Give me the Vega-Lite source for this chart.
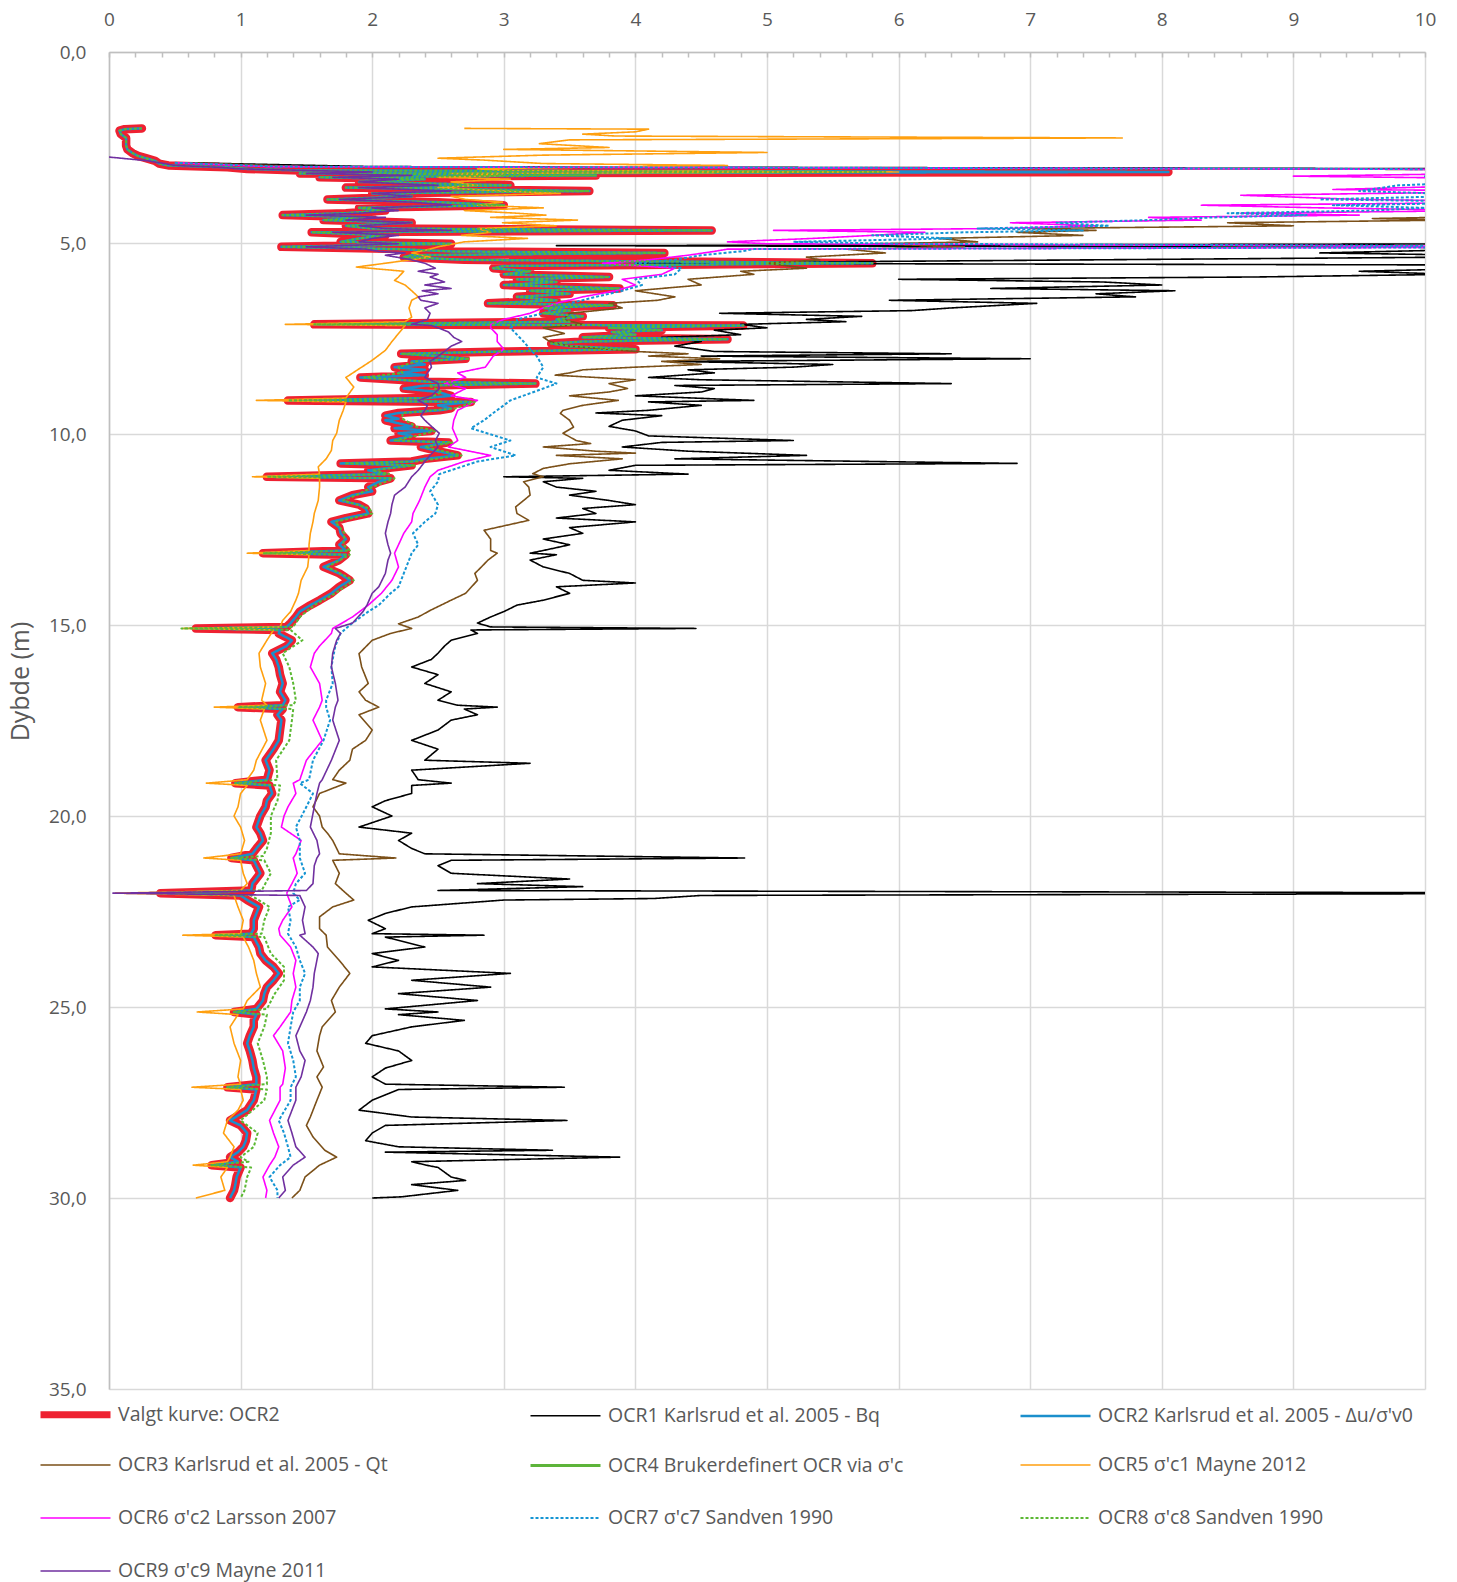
{
"$schema": "https://vega.github.io/schema/vega-lite/v6.json",
"width": 1316, "height": 1337,
"autosize": {"type": "none"},
"padding": {"left": 109, "top": 52, "right": 32, "bottom": 193},
"background": "white",
"config": {
 "font": "Open Sans",
 "view": {"stroke": null},
 "legend": {"orient": "none", "legendX": -72, "legendY": 1324, "columns": 3, "direction": "horizontal", "symbolType": "stroke", "symbolSize": 4900, "labelFontSize": 19.5, "labelColor": "#595959", "labelFont": "Open Sans", "labelLimit": 600, "rowPadding": -21.5, "columnPadding": 91, "gridAlign": "all", "labelOffset": 4, "padding": 0}
},
"data": {"values": [
{"s": "OCR1 Karlsrud et al. 2005 - Bq", "p": [[2.9,0.6],[3,2],[3.06,11],[5.02,11],[5.07,3.4],[5.12,11],[5.26,9.2],[5.35,11],[5.53,4],[5.58,11],[5.66,10.5],[5.74,9.5],[5.82,10.2],[5.89,8.7],[5.95,6],[6.02,7.55],[6.1,8],[6.19,6.7],[6.25,8.1],[6.33,7.5],[6.41,7.8],[6.5,5.93],[6.58,7.05],[6.7,6.4],[6.77,6.1],[6.84,4.64],[6.92,5.72],[7,5.3],[7.06,5.6],[7.13,4.8],[7.22,5],[7.28,4.6],[7.4,4.8],[7.47,4.2],[7.58,4.5],[7.7,4.3],[7.84,4.6],[7.9,6.4],[7.96,4.5],[8.03,7],[8.1,4.3],[8.18,5.5],[8.25,5.2],[8.32,4.4],[8.4,4.6],[8.52,4.1],[8.58,4.5],[8.68,6.4],[8.73,4.3],[8.81,4.6],[8.9,4.5],[9,4],[9.12,4.9],[9.16,4.1],[9.25,4.5],[9.38,4.1],[9.45,3.7],[9.52,4.2],[9.64,3.9],[9.8,3.8],[9.92,4],[10.05,4.1],[10.17,5.2],[10.22,4.2],[10.34,3.9],[10.45,4.4],[10.56,5.3],[10.65,4.3],[10.77,6.9],[10.82,4],[10.95,3.8],[11.05,4.4],[11.12,3],[11.16,3.6],[11.25,3.3],[11.39,3.4],[11.5,3.7],[11.6,3.5],[11.74,3.8],[11.85,4],[11.95,3.6],[12.08,3.7],[12.2,3.4],[12.3,4],[12.45,3.5],[12.6,3.6],[12.75,3.3],[12.9,3.5],[13.05,3.3],[13.12,3.2],[13.16,3.4],[13.3,3.2],[13.48,3.3],[13.65,3.5],[13.83,3.6],[13.9,4],[14,3.4],[14.17,3.5],[14.35,3.3],[14.48,3.1],[14.65,3],[14.79,2.9],[14.95,2.8],[15.05,2.9],[15.09,4.46],[15.13,2.75],[15.22,2.8],[15.4,2.6],[15.55,2.55],[15.74,2.5],[15.9,2.45],[16.1,2.3],[16.3,2.5],[16.53,2.4],[16.75,2.6],[16.97,2.5],[17.1,2.65],[17.15,2.95],[17.2,2.7],[17.35,2.8],[17.49,2.6],[17.75,2.5],[18.02,2.3],[18.25,2.5],[18.54,2.4],[18.62,3.2],[18.8,2.3],[19.05,2.35],[19.14,2.6],[19.2,2.3],[19.41,2.3],[19.6,2.1],[19.76,2],[20,2.15],[20.29,1.9],[20.45,2.3],[20.64,2.2],[20.85,2.3],[20.99,2.4],[21.1,4.83],[21.16,2.6],[21.3,2.5],[21.5,2.6],[21.65,3.5],[21.77,2.8],[21.85,3.6],[21.95,2.5],[22.02,12],[22.08,4.5],[22.16,4.14],[22.2,3],[22.38,2.3],[22.55,2.1],[22.73,1.97],[22.95,2.1],[23.08,2],[23.12,2.85],[23.17,2.1],[23.43,2.4],[23.6,2],[23.78,2.2],[23.95,2],[24.12,3.05],[24.3,2.3],[24.48,2.9],[24.65,2.2],[24.83,2.8],[25.05,2.1],[25.13,2.5],[25.2,2.2],[25.35,2.7],[25.52,2.3],[25.75,2],[25.95,1.95],[26.15,2.2],[26.4,2.3],[26.6,2.1],[26.83,2],[27.02,2.1],[27.1,3.46],[27.16,2.2],[27.44,2],[27.7,1.9],[27.88,2.3],[27.97,3.48],[28.1,2.1],[28.3,2],[28.5,1.95],[28.66,2.2],[28.75,3.37],[28.8,2.1],[28.93,3.88],[29.05,2.3],[29.14,2.41],[29.2,2.5],[29.45,2.6],[29.54,2.71],[29.65,2.3],[29.8,2.65],[29.97,2.22],[30,2]]},
{"s": "OCR2 Karlsrud et al. 2005 - Δu/σ'v0", "p": [[2,0.25],[2.02,0.12],[2.06,0.08],[2.15,0.09],[2.25,0.13],[2.35,0.13],[2.45,0.13],[2.55,0.14],[2.65,0.18],[2.72,0.22],[2.78,0.28],[2.85,0.35],[2.92,0.38],[2.97,0.45],[3.02,0.9],[3.06,1.05],[3.1,1.45],[3.14,8.05],[3.18,1.45],[3.23,3.7],[3.28,1.6],[3.33,2.4],[3.4,1.9],[3.49,3.05],[3.55,1.8],[3.64,3.65],[3.7,2],[3.78,2.3],[3.86,1.66],[3.93,2.5],[4.01,3],[4.08,1.9],[4.15,2.1],[4.22,1.8],[4.27,1.32],[4.33,2],[4.4,1.63],[4.47,2.3],[4.55,1.8],[4.62,2],[4.67,4.58],[4.72,1.54],[4.8,2.1],[4.88,1.9],[4.97,1.76],[5.02,2.6],[5.1,1.31],[5.16,2.2],[5.22,2.6],[5.26,4.22],[5.32,2.3],[5.37,2.24],[5.44,2.7],[5.53,5.8],[5.6,3],[5.66,2.92],[5.74,3.2],[5.82,3],[5.89,3.8],[5.95,3.1],[6.02,3.4],[6.1,3],[6.19,3.88],[6.25,3.2],[6.33,3.5],[6.41,3.1],[6.5,3.4],[6.58,2.88],[6.63,3.83],[6.7,3.3],[6.77,3.5],[6.84,3.3],[6.92,3.6],[7,3.4],[7.06,3.5],[7.13,1.56],[7.16,4.82],[7.22,3.8],[7.28,4.2],[7.33,3.82],[7.4,4],[7.47,3.6],[7.52,4.7],[7.58,3.6],[7.63,3.36],[7.7,3.5],[7.78,4],[7.84,3],[7.9,2.22],[7.96,2.5],[8.03,2.71],[8.1,2.3],[8.18,2.4],[8.25,2.17],[8.32,2.4],[8.4,2.2],[8.46,2.4],[8.52,1.91],[8.58,2.2],[8.63,2.4],[8.68,3.24],[8.73,2.4],[8.81,2.24],[8.9,2.5],[9,2.6],[9.06,2.4],[9.12,1.36],[9.16,2.75],[9.25,2.5],[9.33,2.6],[9.38,2.51],[9.45,2.2],[9.52,2.1],[9.6,2.2],[9.64,2.1],[9.72,2.2],[9.8,2.3],[9.85,2.17],[9.92,2.45],[9.98,2.2],[10.05,2.3],[10.17,2.14],[10.22,2.58],[10.34,2.37],[10.45,2.5],[10.56,2.65],[10.65,2.4],[10.72,2.3],[10.77,1.76],[10.82,2.3],[10.9,2.1],[10.95,1.97],[11.05,2.1],[11.12,1.2],[11.16,2.14],[11.25,2.05],[11.39,1.97],[11.5,2],[11.6,1.85],[11.74,1.75],[11.85,1.9],[11.95,1.95],[12.08,1.97],[12.2,1.8],[12.3,1.69],[12.45,1.75],[12.6,1.76],[12.75,1.8],[12.9,1.75],[13.05,1.8],[13.12,1.17],[13.16,1.8],[13.3,1.75],[13.48,1.63],[13.65,1.75],[13.83,1.83],[14,1.75],[14.17,1.69],[14.35,1.6],[14.48,1.53],[14.65,1.45],[14.79,1.42],[14.95,1.38],[15.05,1.35],[15.09,0.66],[15.13,1.3],[15.22,1.29],[15.4,1.39],[15.55,1.35],[15.74,1.24],[15.9,1.27],[16.1,1.29],[16.3,1.3],[16.53,1.32],[16.75,1.3],[16.97,1.34],[17.1,1.32],[17.15,0.98],[17.2,1.32],[17.35,1.28],[17.49,1.31],[17.75,1.3],[18.02,1.29],[18.25,1.25],[18.54,1.19],[18.8,1.22],[19.05,1.2],[19.14,0.96],[19.2,1.22],[19.41,1.24],[19.6,1.2],[19.76,1.19],[20,1.15],[20.29,1.12],[20.45,1.15],[20.64,1.17],[20.85,1.12],[20.99,1.09],[21.1,0.93],[21.16,1.1],[21.3,1.12],[21.5,1.15],[21.77,1.09],[21.95,1.08],[22.02,0.39],[22.08,1],[22.2,1.05],[22.38,1.14],[22.55,1.12],[22.73,1.1],[22.95,1.1],[23.08,1.08],[23.12,0.81],[23.17,1.1],[23.43,1.14],[23.6,1.15],[23.78,1.19],[23.95,1.25],[24.12,1.29],[24.3,1.25],[24.48,1.2],[24.65,1.18],[24.83,1.17],[25.05,1.12],[25.13,0.95],[25.2,1.12],[25.35,1.1],[25.52,1.1],[25.75,1.07],[25.95,1.05],[26.15,1.07],[26.4,1.09],[26.6,1.1],[26.83,1.12],[27.02,1.12],[27.1,0.9],[27.16,1.12],[27.44,1.1],[27.7,1.05],[27.97,0.92],[28.1,1],[28.3,1.05],[28.5,1.04],[28.66,1.02],[28.8,0.98],[28.93,0.92],[29.05,0.98],[29.14,0.78],[29.2,1],[29.45,0.97],[29.65,0.96],[29.8,0.95],[30,0.92]]},
{"s": "OCR3 Karlsrud et al. 2005 - Qt", "p": [[2.9,0.6],[3,1.5],[3.06,8],[3.1,14],[3.5,14],[4,13],[4.27,11],[4.36,9.6],[4.4,10.2],[4.47,8.5],[4.55,9],[4.62,7],[4.67,7.5],[4.72,6.9],[4.8,7.4],[4.88,6.3],[4.97,6.6],[5.02,5.8],[5.1,6.5],[5.16,5.6],[5.26,5.9],[5.37,5.3],[5.44,5.4],[5.53,5],[5.66,5.3],[5.74,4.8],[5.82,4.9],[5.95,4.4],[6.1,4.5],[6.25,4],[6.41,4.3],[6.5,4.17],[6.58,3.8],[6.7,3.9],[6.84,3.5],[7,3.45],[7.13,3.6],[7.22,3.3],[7.37,3.46],[7.47,3.3],[7.58,3.35],[7.7,3.5],[7.84,4],[7.9,4.4],[7.96,4.1],[8.03,4.64],[8.1,4.2],[8.18,4.5],[8.25,4],[8.32,3.6],[8.4,3.5],[8.46,3.39],[8.52,3.7],[8.58,4],[8.68,3.8],[8.81,3.94],[8.9,3.8],[9,3.5],[9.12,3.87],[9.25,3.6],[9.38,3.45],[9.46,3.43],[9.64,3.5],[9.82,3.53],[9.98,3.45],[10.17,3.55],[10.25,3.66],[10.34,3.3],[10.45,3.7],[10.5,4],[10.56,3.4],[10.65,3.9],[10.78,3.5],[10.9,3.3],[11.04,3.22],[11.12,3.3],[11.25,3.15],[11.39,3.19],[11.6,3.2],[11.91,3.09],[12.08,3.1],[12.26,3.19],[12.52,2.85],[12.75,2.9],[13.05,2.9],[13.12,2.95],[13.3,2.88],[13.48,2.83],[13.65,2.78],[13.83,2.8],[14.17,2.71],[14.35,2.6],[14.62,2.44],[14.79,2.35],[14.97,2.2],[15.09,2.3],[15.22,2.14],[15.4,2],[15.75,1.9],[16.1,1.92],[16.53,1.97],[16.75,1.9],[16.97,1.95],[17.15,2.05],[17.35,1.9],[17.75,2],[18.02,1.95],[18.25,1.85],[18.54,1.83],[18.8,1.75],[19.05,1.7],[19.14,1.8],[19.41,1.6],[19.76,1.55],[20,1.6],[20.29,1.62],[20.45,1.66],[20.64,1.7],[20.99,1.75],[21.1,2.18],[21.16,1.7],[21.5,1.75],[21.77,1.72],[22.02,1.8],[22.2,1.86],[22.38,1.7],[22.64,1.6],[22.95,1.6],[23.12,1.65],[23.43,1.66],[23.78,1.75],[24.12,1.83],[24.48,1.75],[24.83,1.69],[25.13,1.72],[25.52,1.62],[25.75,1.6],[26.15,1.58],[26.57,1.63],[26.83,1.58],[27.1,1.62],[27.44,1.58],[27.88,1.53],[28.1,1.5],[28.4,1.55],[28.75,1.64],[28.93,1.73],[29.14,1.6],[29.45,1.49],[29.8,1.45],[30,1.39]]},
{"s": "OCR5 σ'c1 Mayne 2012", "p": [[2,2.7],[2.02,4.1],[2.09,4],[2.15,3.6],[2.2,3.85],[2.25,7.7],[2.3,3.5],[2.4,3.27],[2.5,3.8],[2.55,3],[2.63,5],[2.7,3.3],[2.78,2.5],[2.83,2.85],[2.92,3.3],[2.97,4.7],[3.02,3.5],[3.06,2.8],[3.1,3],[3.14,6],[3.18,2.6],[3.23,3],[3.28,2.5],[3.33,3.05],[3.4,2.6],[3.49,2.8],[3.55,2.5],[3.64,3],[3.7,3.43],[3.78,2.6],[3.86,2.71],[3.93,2.99],[4.01,2.8],[4.08,3.3],[4.15,2.7],[4.22,3.1],[4.27,3.32],[4.33,2.9],[4.4,3.56],[4.47,2.99],[4.55,3.4],[4.62,2.8],[4.72,2.9],[4.8,2.68],[4.88,3.18],[4.97,2.7],[5.1,2.5],[5.16,2.44],[5.26,2.3],[5.37,2.44],[5.53,2.1],[5.63,1.88],[5.74,2.24],[5.89,2.2],[5.98,2.17],[6.1,2.25],[6.25,2.3],[6.41,2.35],[6.5,2.3],[6.7,2.28],[6.94,2.3],[7.06,2.25],[7.13,1.34],[7.16,2.25],[7.37,2.2],[7.58,2.15],[7.81,2.1],[8.07,2],[8.25,1.92],[8.52,1.8],[8.77,1.86],[9.06,1.8],[9.12,1.12],[9.16,1.8],[9.38,1.78],[9.64,1.75],[9.98,1.73],[10.17,1.7],[10.43,1.69],[10.65,1.65],[10.86,1.59],[11.05,1.6],[11.12,1.09],[11.16,1.6],[11.39,1.6],[11.74,1.59],[12.08,1.56],[12.3,1.55],[12.6,1.53],[12.9,1.52],[13.05,1.52],[13.12,1.05],[13.16,1.52],[13.48,1.51],[13.83,1.46],[14.17,1.44],[14.35,1.42],[14.65,1.38],[14.88,1.32],[15.05,1.3],[15.09,0.56],[15.13,1.25],[15.4,1.2],[15.74,1.14],[16.1,1.15],[16.53,1.19],[16.97,1.16],[17.1,1.2],[17.15,0.8],[17.2,1.18],[17.49,1.15],[18.02,1.2],[18.54,1.12],[18.8,1.1],[19.05,1.05],[19.14,0.74],[19.2,1.05],[19.41,1],[19.76,0.98],[20,0.95],[20.29,1],[20.64,1.03],[20.99,1],[21.1,0.72],[21.16,1],[21.5,1.02],[21.77,1.05],[21.95,1],[22.02,0.05],[22.08,0.95],[22.38,0.98],[22.73,1.02],[23.08,1],[23.12,0.56],[23.17,1.02],[23.43,1.06],[23.78,1.1],[24.12,1.12],[24.48,1.15],[24.83,1.05],[25.05,1.02],[25.13,0.67],[25.2,0.98],[25.52,0.92],[25.95,0.95],[26.4,1],[26.83,0.98],[27.02,1],[27.1,0.63],[27.16,1],[27.44,1.02],[27.7,0.98],[27.97,0.9],[28.3,0.87],[28.66,0.95],[28.93,0.92],[29.05,0.9],[29.14,0.64],[29.2,0.9],[29.45,0.85],[29.8,0.88],[30,0.66]]},
{"s": "OCR6 σ'c2 Larsson 2007", "p": [[2.9,0.5],[3,1.2],[3.06,9],[3.1,12],[3.18,10.5],[3.25,9],[3.33,11],[3.49,10.5],[3.6,9.3],[3.64,11],[3.75,8.6],[3.86,9.5],[3.93,11],[4.01,8.3],[4.08,9.2],[4.15,10.5],[4.22,8.6],[4.27,9.5],[4.33,7.9],[4.4,8.3],[4.47,6.85],[4.55,7.5],[4.62,6.8],[4.67,5.05],[4.72,6.2],[4.8,5.8],[4.88,5.35],[4.97,4.7],[5.02,5],[5.1,12],[5.16,4.7],[5.22,4.6],[5.32,4.4],[5.44,4.1],[5.53,3.75],[5.66,4.3],[5.82,4.2],[5.95,3.9],[6.1,4],[6.25,3.85],[6.41,3.6],[6.58,3.4],[6.7,3.3],[6.84,3.2],[7,3],[7.13,2.9],[7.22,2.9],[7.4,2.95],[7.58,2.95],[7.78,3],[7.96,2.92],[8.25,2.86],[8.4,2.65],[8.52,2.71],[8.68,2.55],[8.81,2.71],[9,2.6],[9.12,2.8],[9.38,2.65],[9.64,2.62],[9.85,2.61],[10.17,2.65],[10.34,2.58],[10.56,2.9],[10.72,2.7],[10.95,2.5],[11.12,2.44],[11.39,2.4],[11.74,2.36],[12.08,2.31],[12.3,2.3],[12.6,2.24],[12.9,2.2],[13.12,2.17],[13.48,2.2],[13.83,2.15],[14.17,2.07],[14.48,1.97],[14.79,1.85],[15.09,1.7],[15.22,1.69],[15.55,1.6],[15.74,1.56],[16.1,1.53],[16.53,1.6],[16.97,1.62],[17.15,1.6],[17.49,1.55],[18.02,1.62],[18.54,1.5],[19.05,1.45],[19.14,1.4],[19.41,1.42],[19.76,1.36],[20,1.33],[20.29,1.31],[20.64,1.46],[20.99,1.42],[21.1,1.4],[21.5,1.43],[21.77,1.39],[22.02,1.35],[22.38,1.39],[22.73,1.32],[22.95,1.29],[23.12,1.3],[23.43,1.38],[23.78,1.42],[24.12,1.4],[24.48,1.42],[24.83,1.39],[25.13,1.38],[25.52,1.3],[25.75,1.25],[26.15,1.32],[26.6,1.34],[27.02,1.32],[27.1,1.3],[27.44,1.3],[27.97,1.22],[28.3,1.25],[28.66,1.29],[28.93,1.26],[29.14,1.22],[29.45,1.17],[29.8,1.2],[30,1.19]]},
{"s": "OCR7 σ'c7 Sandven 1990", "p": [[2.9,0.5],[3,1.3],[3.06,9.5],[3.1,12],[3.18,11],[3.25,10],[3.33,11],[3.49,9.8],[3.64,9.5],[3.75,10.5],[3.86,9.2],[3.93,10.8],[4.01,9.3],[4.08,10],[4.15,9.6],[4.22,8.5],[4.27,9.1],[4.33,8.4],[4.4,7.9],[4.47,7.2],[4.55,7.6],[4.62,6.6],[4.67,7.4],[4.72,6.5],[4.8,5.8],[4.88,6.4],[4.97,5.2],[5.02,6],[5.1,12],[5.16,4.9],[5.22,4.8],[5.32,4.5],[5.44,4.3],[5.53,4],[5.66,4.35],[5.82,4.3],[5.95,4],[6.1,4.05],[6.25,3.9],[6.41,3.7],[6.58,3.5],[6.7,3.4],[6.84,3.3],[7,3.1],[7.13,3.1],[7.22,3.05],[7.4,3.1],[7.58,3.15],[7.78,3.2],[7.96,3.25],[8.25,3.3],[8.52,3.25],[8.68,3.4],[8.81,3.3],[9.12,3.05],[9.25,3],[9.45,2.92],[9.64,2.85],[9.85,2.75],[10.17,3.05],[10.34,2.9],[10.56,3.09],[10.72,2.8],[11.05,2.51],[11.25,2.5],[11.5,2.44],[11.85,2.5],[12.08,2.48],[12.3,2.4],[12.6,2.31],[12.9,2.35],[13.12,2.3],[13.3,2.28],[13.65,2.24],[14,2.2],[14.17,2.14],[14.48,2.05],[14.65,1.97],[14.95,1.85],[15.09,1.8],[15.22,1.76],[15.55,1.72],[15.9,1.7],[16.1,1.69],[16.53,1.7],[16.97,1.65],[17.15,1.65],[17.49,1.68],[18.02,1.63],[18.54,1.55],[19.05,1.52],[19.14,1.45],[19.41,1.55],[19.76,1.5],[20.29,1.42],[20.64,1.45],[20.99,1.45],[21.1,1.45],[21.5,1.49],[21.77,1.42],[22.02,1.4],[22.2,1.45],[22.38,1.36],[22.73,1.38],[23.08,1.36],[23.43,1.42],[23.78,1.45],[24.12,1.49],[24.48,1.45],[24.83,1.45],[25.13,1.4],[25.52,1.38],[25.95,1.36],[26.4,1.4],[26.83,1.42],[27.1,1.38],[27.44,1.38],[27.97,1.29],[28.3,1.33],[28.66,1.36],[28.93,1.38],[29.14,1.3],[29.45,1.22],[29.8,1.28],[30,1.28]]},
{"s": "OCR8 σ'c8 Sandven 1990", "p": [[2,0.25],[2.02,0.12],[2.06,0.08],[2.15,0.09],[2.25,0.13],[2.35,0.13],[2.45,0.13],[2.55,0.14],[2.65,0.18],[2.72,0.22],[2.78,0.28],[2.85,0.35],[2.92,0.38],[2.97,0.45],[3.02,0.9],[3.06,1.05],[3.1,1.45],[3.14,5.9],[3.18,1.45],[3.23,3.7],[3.28,1.6],[3.33,2.4],[3.4,1.9],[3.49,3.05],[3.55,1.8],[3.64,3.65],[3.7,2],[3.78,2.3],[3.86,1.66],[3.93,2.5],[4.01,3],[4.08,1.9],[4.15,2.1],[4.22,1.8],[4.27,1.32],[4.33,2],[4.4,1.63],[4.47,2.3],[4.55,1.8],[4.62,2],[4.67,4.58],[4.72,1.54],[4.8,2.1],[4.88,1.9],[4.97,1.76],[5.02,2.6],[5.1,1.31],[5.16,2.2],[5.22,2.6],[5.26,4.22],[5.32,2.3],[5.37,2.24],[5.44,2.7],[5.53,5.8],[5.6,3],[5.66,2.92],[5.74,3.2],[5.82,3],[5.89,3.8],[5.95,3.1],[6.02,3.4],[6.1,3],[6.19,3.88],[6.25,3.2],[6.33,3.5],[6.41,3.1],[6.5,3.4],[6.58,2.88],[6.63,3.83],[6.7,3.3],[6.77,3.5],[6.84,3.3],[6.92,3.6],[7,3.4],[7.06,3.5],[7.13,1.56],[7.16,4.82],[7.22,3.8],[7.28,4.2],[7.33,3.82],[7.4,4],[7.47,3.6],[7.52,4.7],[7.58,3.6],[7.63,3.36],[7.7,3.5],[7.78,4],[7.84,3],[7.9,2.22],[7.96,2.5],[8.03,2.74],[8.1,2.33],[8.25,2.2],[8.4,2.23],[8.52,1.94],[8.63,2.43],[8.68,3.24],[8.73,2.43],[8.9,2.53],[9.06,2.43],[9.12,1.36],[9.16,2.78],[9.33,2.63],[9.45,2.23],[9.6,2.23],[9.8,2.33],[9.92,2.48],[10.05,2.33],[10.17,2.17],[10.22,2.61],[10.34,2.4],[10.56,2.68],[10.72,2.33],[10.77,1.79],[10.82,2.33],[10.95,2],[11.05,2.13],[11.12,1.2],[11.16,2.17],[11.39,2],[11.6,1.88],[11.74,1.78],[11.95,1.98],[12.08,2],[12.3,1.72],[12.6,1.79],[12.9,1.78],[13.05,1.83],[13.12,1.17],[13.16,1.83],[13.48,1.66],[13.83,1.86],[14.17,1.72],[14.48,1.56],[14.79,1.45],[15.05,1.4],[15.09,0.55],[15.13,1.38],[15.4,1.47],[15.74,1.32],[16.1,1.37],[16.53,1.4],[16.97,1.42],[17.1,1.4],[17.15,0.98],[17.2,1.4],[17.49,1.39],[18.02,1.37],[18.54,1.27],[19.05,1.28],[19.14,0.96],[19.2,1.3],[19.6,1.28],[20,1.23],[20.45,1.23],[20.85,1.2],[21.05,1.17],[21.1,0.93],[21.16,1.18],[21.5,1.23],[21.95,1.16],[22.02,0.39],[22.08,1.08],[22.38,1.22],[22.73,1.18],[23.08,1.16],[23.12,0.81],[23.17,1.18],[23.6,1.23],[23.95,1.33],[24.3,1.33],[24.65,1.26],[25.05,1.2],[25.13,0.95],[25.2,1.2],[25.52,1.18],[25.95,1.13],[26.4,1.17],[26.83,1.2],[27.02,1.2],[27.1,0.9],[27.16,1.2],[27.44,1.18],[27.97,1],[28.3,1.13],[28.66,1.1],[28.93,1],[29.05,1.06],[29.14,0.78],[29.2,1.08],[29.45,1.05],[29.8,1.03],[30,1]]},
{"s": "OCR9 σ'c9 Mayne 2011", "p": [[2.75,0],[2.8,0.15],[2.85,0.3],[2.92,0.42],[2.97,0.5],[3.02,0.85],[3.06,1],[3.1,1.5],[3.14,2],[3.18,1.5],[3.23,2.3],[3.28,1.7],[3.33,2.2],[3.4,1.9],[3.49,2.5],[3.55,1.9],[3.64,2.6],[3.7,2],[3.78,2.3],[3.86,1.75],[3.93,2.3],[4.01,2.6],[4.08,2],[4.15,2.2],[4.22,1.9],[4.27,1.5],[4.33,2.1],[4.4,1.8],[4.47,2.3],[4.55,1.9],[4.62,2.1],[4.67,2.6],[4.72,1.7],[4.8,2.2],[4.88,2],[4.97,1.9],[5.02,2.2],[5.1,1.5],[5.16,1.95],[5.22,2.05],[5.26,2.25],[5.32,2.1],[5.44,2.3],[5.53,2.4],[5.66,2.48],[5.74,2.35],[5.82,2.5],[5.89,2.44],[6.02,2.55],[6.1,2.4],[6.19,2.6],[6.25,2.38],[6.33,2.5],[6.41,2.35],[6.5,2.37],[6.58,2.5],[6.7,2.4],[6.84,2.44],[7,2.42],[7.13,2.3],[7.16,2.45],[7.22,2.5],[7.33,2.58],[7.47,2.62],[7.58,2.68],[7.7,2.6],[7.84,2.55],[7.96,2.5],[8.1,2.44],[8.25,2.45],[8.4,2.42],[8.52,2.4],[8.68,2.5],[8.81,2.51],[9,2.45],[9.12,2.35],[9.25,2.42],[9.38,2.4],[9.52,2.37],[9.64,2.4],[9.8,2.45],[9.98,2.51],[10.17,2.48],[10.34,2.5],[10.56,2.44],[10.72,2.4],[10.95,2.35],[11.12,2.3],[11.39,2.25],[11.6,2.17],[11.85,2.15],[12.08,2.14],[12.3,2.12],[12.6,2.1],[12.9,2.12],[13.12,2.14],[13.3,2.12],[13.65,2.1],[14,2.05],[14.17,2],[14.48,1.96],[14.65,1.93],[14.95,1.85],[15.09,1.72],[15.22,1.76],[15.4,1.73],[15.74,1.7],[16.1,1.69],[16.53,1.72],[16.97,1.74],[17.15,1.72],[17.49,1.7],[18.02,1.75],[18.54,1.69],[19.05,1.62],[19.14,1.6],[19.41,1.58],[19.76,1.56],[20.29,1.53],[20.64,1.58],[20.99,1.6],[21.1,1.58],[21.3,1.56],[21.77,1.55],[21.95,1.5],[22.02,0.03],[22.08,1.45],[22.38,1.49],[22.73,1.47],[23.08,1.49],[23.12,1.45],[23.43,1.55],[23.6,1.59],[24.12,1.56],[24.48,1.55],[24.83,1.53],[25.13,1.5],[25.52,1.45],[25.75,1.42],[26.15,1.45],[26.4,1.49],[26.83,1.46],[27.1,1.42],[27.44,1.42],[27.97,1.36],[28.3,1.39],[28.66,1.42],[28.93,1.49],[29.14,1.4],[29.45,1.32],[29.8,1.34],[30,1.29]]}
]},
"transform": [{"flatten": ["p"]}],
"encoding": {
 "y": {"field": "p[0]", "type": "quantitative", "scale": {"domain": [0, 35], "reverse": true, "nice": false, "zero": false},
  "axis": {"values": [0,5,10,15,20,25,30,35], "labelExpr": "replace(format(datum.value, '.1f'), '.', ',')", "labelFlush": false, "labelOverlap": false, "grid": true, "gridColor": "#d9d9d9", "gridWidth": 1.5, "domainColor": "#bfbfbf", "domainWidth": 1.5, "ticks": false, "labelPadding": 23, "labelFontSize": 19, "labelColor": "#595959", "labelFont": "Open Sans", "title": "Dybde (m)", "titleFont": "Open Sans", "titleFontSize": 25, "titleFontWeight": "normal", "titleColor": "#595959", "titleX": -89, "titleY": 629, "titleAngle": -90, "titleAlign": "center", "titleBaseline": "middle"}},
 "x": {"field": "p[1]", "type": "quantitative", "scale": {"domain": [0, 10], "nice": false},
  "axis": {"orient": "top", "values": [0,0.2,0.4,0.6,0.8,1,1.2,1.4,1.6,1.8,2,2.2,2.4,2.6,2.8,3,3.2,3.4,3.6,3.8,4,4.2,4.4,4.6,4.8,5,5.2,5.4,5.6,5.8,6,6.2,6.4,6.6,6.8,7,7.2,7.4,7.6,7.8,8,8.2,8.4,8.6,8.8,9,9.2,9.4,9.6,9.8,10], "labelExpr": "datum.value % 1 === 0 ? format(datum.value, 'd') : ''", "labelFlush": false, "labelOverlap": false, "grid": true, "gridOpacity": {"condition": {"test": "datum.value % 1 === 0", "value": 1}, "value": 0}, "gridColor": "#d9d9d9", "gridWidth": 1.5, "domainColor": "#bfbfbf", "domainWidth": 1.5, "tickColor": "#bfbfbf", "tickWidth": 1.5, "tickSize": -5, "labelPadding": 28, "labelFontSize": 19, "labelColor": "#595959", "labelFont": "Open Sans", "title": null}},
 "order": {"field": "p[0]", "type": "quantitative"}
},
"layer": [
 {"transform": [{"filter": {"field": "s", "equal": "OCR2 Karlsrud et al. 2005 - Δu/σ'v0"}}], "mark": {"type": "line", "clip": true, "stroke": "#ee2131", "strokeWidth": 8.5, "strokeCap": "round", "strokeJoin": "round"}, "encoding": {}},
 {"encoding": {
   "color": {"field": "s", "type": "nominal", "scale": {"domain": ["Valgt kurve: OCR2", "OCR1 Karlsrud et al. 2005 - Bq", "OCR2 Karlsrud et al. 2005 - Δu/σ'v0", "OCR3 Karlsrud et al. 2005 - Qt", "OCR4 Brukerdefinert OCR via σ'c", "OCR5 σ'c1 Mayne 2012", "OCR6 σ'c2 Larsson 2007", "OCR7 σ'c7 Sandven 1990", "OCR8 σ'c8 Sandven 1990", "OCR9 σ'c9 Mayne 2011"], "range": ["#ee2131", "#000000", "#1b8fcc", "#7b5019", "#5db43a", "#ffa010", "#ff00ff", "#1595d3", "#5bb833", "#7030a0"]}, "legend": {"title": null}},
   "strokeWidth": {"field": "s", "type": "nominal", "scale": {"type": "ordinal", "domain": ["Valgt kurve: OCR2", "OCR1 Karlsrud et al. 2005 - Bq", "OCR2 Karlsrud et al. 2005 - Δu/σ'v0", "OCR3 Karlsrud et al. 2005 - Qt", "OCR4 Brukerdefinert OCR via σ'c", "OCR5 σ'c1 Mayne 2012", "OCR6 σ'c2 Larsson 2007", "OCR7 σ'c7 Sandven 1990", "OCR8 σ'c8 Sandven 1990", "OCR9 σ'c9 Mayne 2011"], "range": [7, 1.6, 2.5, 1.6, 3, 1.6, 1.6, 2, 2, 1.6]}, "legend": {"title": null}},
   "strokeDash": {"field": "s", "type": "nominal", "scale": {"domain": ["Valgt kurve: OCR2", "OCR1 Karlsrud et al. 2005 - Bq", "OCR2 Karlsrud et al. 2005 - Δu/σ'v0", "OCR3 Karlsrud et al. 2005 - Qt", "OCR4 Brukerdefinert OCR via σ'c", "OCR5 σ'c1 Mayne 2012", "OCR6 σ'c2 Larsson 2007", "OCR7 σ'c7 Sandven 1990", "OCR8 σ'c8 Sandven 1990", "OCR9 σ'c9 Mayne 2011"], "range": [[1,0],[1,0],[1,0],[1,0],[1,0],[1,0],[1,0],[3,2],[3,2],[1,0]]}, "legend": {"title": null}}
  },
  "layer": [
   {"transform": [{"filter": {"field": "s", "equal": "OCR1 Karlsrud et al. 2005 - Bq"}}], "mark": {"type": "line", "clip": true, "strokeJoin": "round"}, "encoding": {}},
   {"transform": [{"filter": {"field": "s", "equal": "OCR2 Karlsrud et al. 2005 - Δu/σ'v0"}}], "mark": {"type": "line", "clip": true, "strokeJoin": "round"}, "encoding": {}},
   {"transform": [{"filter": {"field": "s", "equal": "OCR3 Karlsrud et al. 2005 - Qt"}}], "mark": {"type": "line", "clip": true, "strokeJoin": "round"}, "encoding": {}},
   {"transform": [{"filter": {"field": "s", "equal": "OCR5 σ'c1 Mayne 2012"}}], "mark": {"type": "line", "clip": true, "strokeJoin": "round"}, "encoding": {}},
   {"transform": [{"filter": {"field": "s", "equal": "OCR6 σ'c2 Larsson 2007"}}], "mark": {"type": "line", "clip": true, "strokeJoin": "round"}, "encoding": {}},
   {"transform": [{"filter": {"field": "s", "equal": "OCR7 σ'c7 Sandven 1990"}}], "mark": {"type": "line", "clip": true, "strokeJoin": "round"}, "encoding": {}},
   {"transform": [{"filter": {"field": "s", "equal": "OCR8 σ'c8 Sandven 1990"}}], "mark": {"type": "line", "clip": true, "strokeJoin": "round"}, "encoding": {}},
   {"transform": [{"filter": {"field": "s", "equal": "OCR9 σ'c9 Mayne 2011"}}], "mark": {"type": "line", "clip": true, "strokeJoin": "round"}, "encoding": {}}
  ]}
]
}
